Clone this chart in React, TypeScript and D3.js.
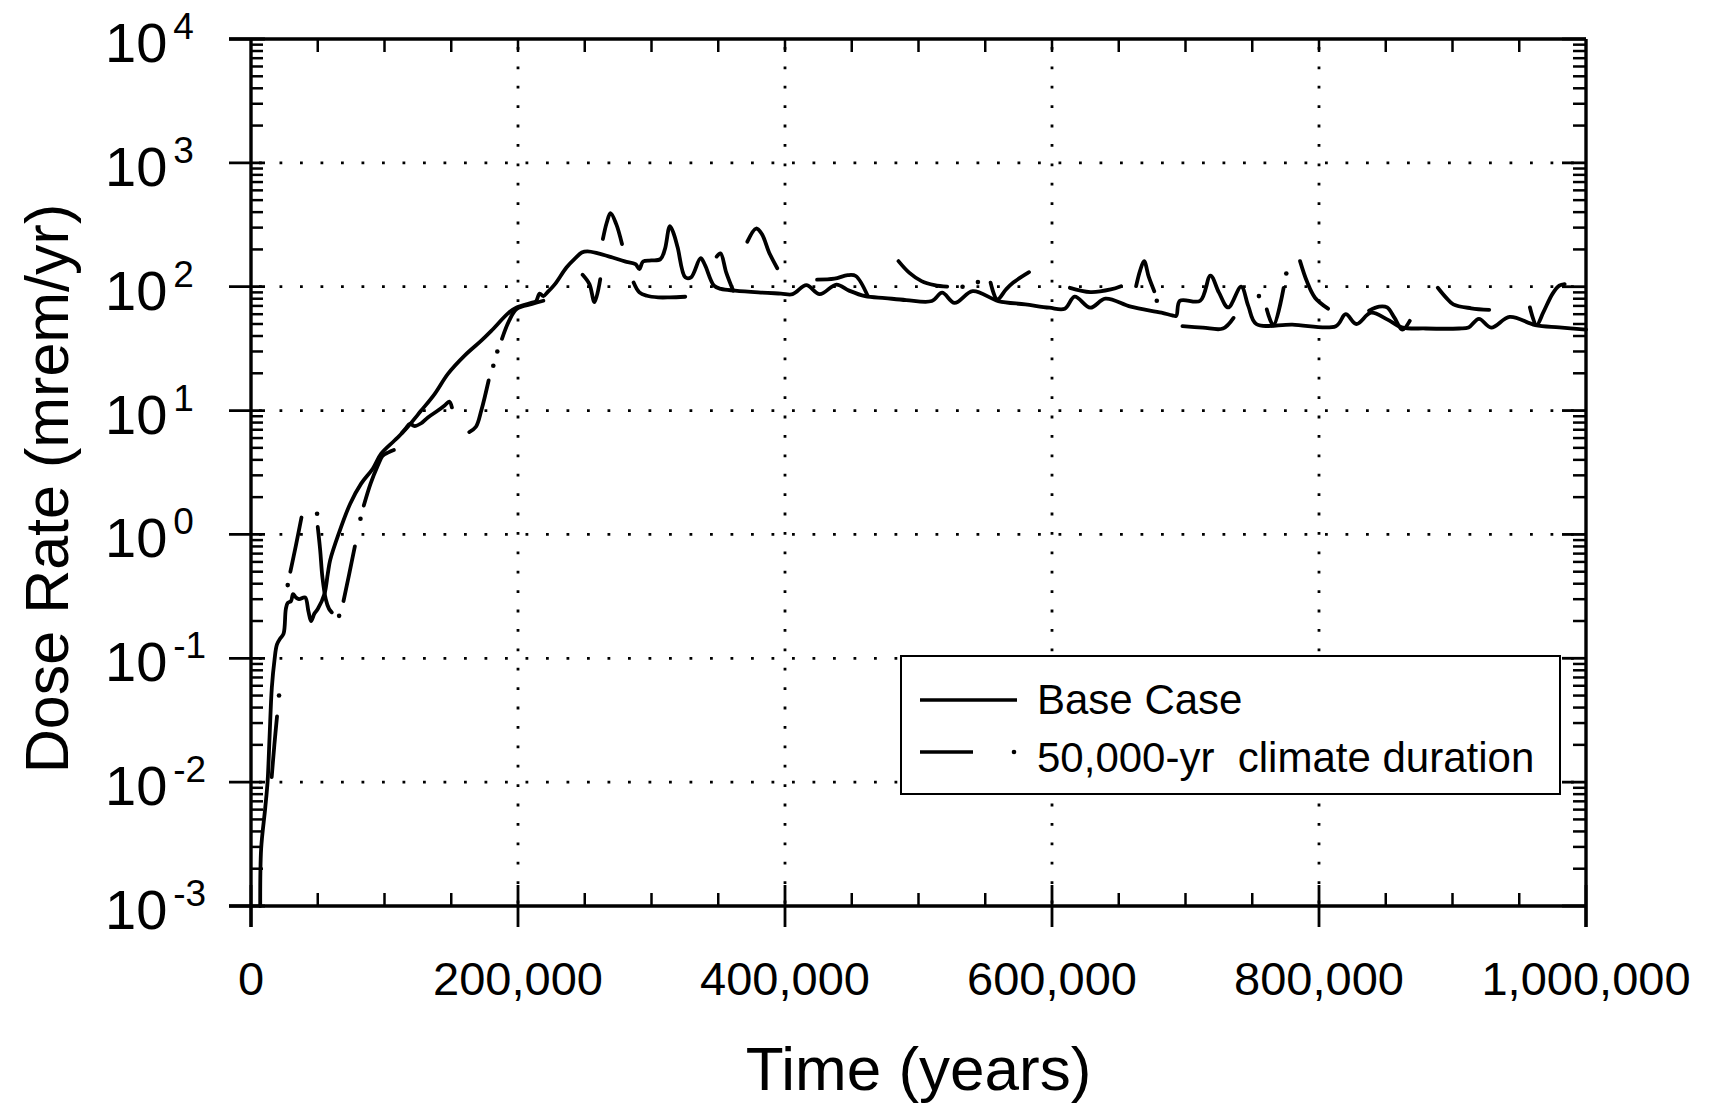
import React from 'react';
import * as d3 from 'd3';

const W = 1709;
const H = 1104;

// axis ticks / labels
const xTickValues = [0, 200000, 400000, 600000, 800000, 1000000];
const xTickLabels = ['0', '200,000', '400,000', '600,000', '800,000', '1,000,000'];
const xMinorStep = 50000;
const yTickExponents = [-3, -2, -1, 0, 1, 2, 3, 4];
const xTitle = 'Time (years)';
const yTitle = 'Dose Rate (mrem/yr)';
const legendLabels = ['Base Case', '50,000-yr  climate duration'];

// Base case (solid)
const baseCaseYears = [
  6900, 7600, 10600, 12400, 13900, 15600, 17600, 19400, 22000, 24400, 26100, 27500, 30000, 31500, 33700,
  36000, 40500, 43000, 45000, 47500, 50000, 55000, 57500, 59300, 65500, 74300, 82500, 91200, 97500,
  107500, 115000, 127500, 137500, 147500, 160000, 172500, 180000, 193300, 199000, 210000, 213400,
  216200, 219000, 222000, 227700, 236300, 243000, 247800, 252000, 260000, 270800, 280000, 288000,
  290900, 293700, 300000, 306700, 310000, 313800, 316500, 319600, 325300, 329600, 336800, 340000,
  346800, 352000, 362600, 380000, 397000, 405700, 416000, 426000, 438500, 448000, 460000, 475000,
  490800, 510000, 517700, 527000, 540600, 559800, 580000, 598000, 609600, 617000, 628700, 640000,
  659000, 682000, 690000, 693000, 695800, 711000, 718700, 725000, 732000, 741700, 747000, 753000,
  780000, 812600, 820000, 828000, 839000, 851000, 862000, 880000, 905000, 912000, 919800, 929000,
  942800, 962000, 980000, 1000000,
];
const baseCaseDose = [
  0.001, 0.0029, 0.0061, 0.01, 0.023, 0.058, 0.097, 0.129, 0.145, 0.158, 0.25, 0.28, 0.29, 0.33, 0.31,
  0.3, 0.31, 0.24, 0.2, 0.23, 0.25, 0.33, 0.48, 0.62, 1.0, 1.77, 2.57, 3.39, 4.48,
  5.73, 6.9, 10, 13.6, 19.8, 27.8, 36.7, 44, 62, 68, 74, 76,
  88, 84, 90, 105, 143, 170, 189, 193, 186, 172, 160, 152,
  139, 160, 163, 167, 200, 309, 270, 207, 119, 119, 170, 150,
  102, 96, 93, 90, 88, 87, 103, 87, 104, 93, 84, 81,
  78, 76.6, 89.5, 74, 92, 76.6, 72, 67.7, 66.5, 83, 67.7, 80,
  69, 61.7, 58.7, 58, 77, 77, 123, 90, 68, 100, 70, 50,
  49.5, 48, 60, 50, 61.7, 54.5, 47, 46, 46, 46.8, 55, 46.8,
  57, 49, 47, 45,
];

// 50,000-yr climate duration (dash-dot) : visible dashes, NaN = gap of the dash pattern
const climateYears = [
  15500, 17500, 19500, NaN,
  29500, 33500, 37800, NaN,
  50000, 51800, 53500, 56000, 58500, 60500, NaN,
  69300, 73400, 77800, NaN,
  84500, 89500, 95000, 98500, 103000, 107000, NaN,
  113000, 116000, 119000, 122500, 127500, 132500, 140000, 145000, 148500, 150500, NaN,
  163500, 168500, 172500, 178000, NaN,
  188000, 193300, 199000, 210500, 219000, NaN,
  248400, 253500, 257300, 261600, NaN,
  263600, 266500, 269300, 273600, 277900, NaN,
  286600, 290900, 296600, 305000, 313800, 325300, NaN,
  348800, 351700, 356000, 361200, NaN,
  371800, 378400, 382700, 388000, 394200, NaN,
  424000, 437000, 447000, 453000, 462000, NaN,
  485000, 493000, 502300, 512000, 521500, NaN,
  554000, 559000, 565500, 571000, 582800, NaN,
  613400, 628700, 644000, 651700, NaN,
  663000, 666000, 669000, 672500, 676600, NaN,
  697700, 713000, 728000, 736000, NaN,
  760900, 765800, 773500, NaN,
  785800, 791000, 797000, 806800, NaN,
  837500, 845000, 851000, 856600, 862400, 868000, NaN,
  889000, 895000, 900600, 914000, 927500, NaN,
  958000, 963000, 968000, 975000, 980000, 984000,
];
const climateDose = [
  0.011, 0.02, 0.034, NaN,
  0.5, 0.8, 1.37, NaN,
  1.15, 0.75, 0.45, 0.3, 0.25, 0.235, NaN,
  0.29, 0.47, 0.8, NaN,
  1.71, 2.56, 3.6, 4.3, 4.6, 4.8, NaN,
  6.6, 7.2, 7.8, 7.5, 7.9, 8.8, 10, 11, 11.8, 10.6, NaN,
  6.7, 7.4, 10, 17.5, NaN,
  38, 53, 66, 72.5, 77, NaN,
  125, 105, 75, 115, NaN,
  243, 330, 393, 320, 221, NaN,
  108, 90, 84.5, 82, 82, 83, NaN,
  175, 186, 130, 93, NaN,
  231, 295, 266, 190, 141, NaN,
  114, 116, 124, 122, 84, NaN,
  161, 130, 111, 103, 100, NaN,
  108, 79, 95, 108, 131, NaN,
  98, 90.6, 95, 101, NaN,
  101, 135, 161, 120, 92, NaN,
  48, 46.8, 45.9, 56, NaN,
  65.6, 48.8, 98, NaN,
  161, 110, 81.5, 66.5, NaN,
  64, 69, 68, 56, 45, 53, NaN,
  98, 82, 72, 67, 65, NaN,
  68, 49, 62, 88, 102, 105,
];
const climateDotYears = [21000, 27500, 49500, 66000, 82000, 181500, 184500, 533000, 544500, 678500, 755000, 775500];
const climateDotDose = [0.05, 0.39, 1.47, 0.22, 1.34, 23, 30, 100, 109, 77, 84, 128];

const FONT = '"Liberation Sans", Arial, Helvetica, sans-serif';

export default function App() {
  const x = d3.scaleLinear().domain([0, 1000000]).range([251, 1586]);
  const y = d3.scaleLog().domain([1e-3, 1e4]).range([906, 39]);
  const x0 = x(0), x1 = x(1000000), yTop = y(1e4), yBot = y(1e-3);

  const line = d3
    .line<[number, number]>()
    .defined((d) => !isNaN(d[0]) && !isNaN(d[1]))
    .x((d) => x(d[0]))
    .y((d) => y(d[1]))
    .curve(d3.curveCatmullRom.alpha(0.5));

  const basePts: [number, number][] = baseCaseYears.map((t, i) => [t, baseCaseDose[i]]);
  const climPts: [number, number][] = climateYears.map((t, i) => [t, climateDose[i]]);

  const minorX = d3.range(xMinorStep, 1000000, xMinorStep);
  const minorY: number[] = [];
  for (let e = -3; e < 4; e++) for (let k = 2; k <= 9; k++) minorY.push(k * Math.pow(10, e));

  const gridX = xTickValues.filter((v) => v > 0 && v < 1000000);
  const gridY = yTickExponents.filter((e) => e > -3 && e < 4).map((e) => Math.pow(10, e));

  return (
    <div style={{ position: 'fixed', left: 0, top: 0, width: W, height: H, background: '#fff' }}>
      <svg width={W} height={H} style={{ display: 'block' }} fontFamily={FONT}>
        <rect x={0} y={0} width={W} height={H} fill="#fff" />
        {/* grid */}
        <g stroke="#000" strokeWidth={2.8} strokeDasharray="2.8 17.7" fill="none">
          {gridY.map((v) => (
            <line key={'gy' + v} x1={x0 + 8} x2={x1} y1={y(v)} y2={y(v)} />
          ))}
          {gridX.map((v) => (
            <line key={'gx' + v} x1={x(v)} x2={x(v)} y1={yTop + 8} y2={yBot} strokeDasharray="2.8 16.6" />
          ))}
        </g>

        {/* data */}
        <path d={line(basePts) || ''} fill="none" stroke="#000" strokeWidth={3.8} strokeLinejoin="round" strokeLinecap="round" />
        <path d={line(climPts) || ''} fill="none" stroke="#000" strokeWidth={3.8} strokeLinejoin="round" strokeLinecap="round" />
        {climateDotYears.map((t, i) => (
          <circle key={'cd' + i} cx={x(t)} cy={y(climateDotDose[i])} r={2.3} fill="#000" />
        ))}

        {/* axes frame */}
        <g stroke="#000" fill="none" strokeLinecap="butt">
          <line x1={x0} x2={x0} y1={yTop} y2={yBot + 21} strokeWidth={3.4} />
          <line x1={x1} x2={x1} y1={yTop} y2={yBot + 21} strokeWidth={3.4} />
          <line x1={x0 - 22} x2={x1} y1={yTop} y2={yTop} strokeWidth={3.4} />
          <line x1={x0 - 22} x2={x1} y1={yBot} y2={yBot} strokeWidth={3.4} />
          {/* x major ticks */}
          {xTickValues.map((v) => (
            <line key={'xt' + v} x1={x(v)} x2={x(v)} y1={yBot - 21} y2={yBot + 21} strokeWidth={2.8} />
          ))}
          {/* x minor ticks bottom */}
          {minorX
            .filter((v) => v % 200000 !== 0)
            .map((v) => (
              <line key={'xm' + v} x1={x(v)} x2={x(v)} y1={yBot - 13} y2={yBot} strokeWidth={2.5} />
            ))}
          {/* top ticks */}
          {minorX.map((v) => (
            <line key={'xtop' + v} x1={x(v)} x2={x(v)} y1={yTop} y2={yTop + 13} strokeWidth={2.5} />
          ))}
          {/* y major ticks */}
          {yTickExponents.map((e) => (
            <g key={'ym' + e}>
              <line x1={x0 - 22} x2={x0 + 14} y1={y(Math.pow(10, e))} y2={y(Math.pow(10, e))} strokeWidth={2.8} />
              <line x1={x1 - 24} x2={x1} y1={y(Math.pow(10, e))} y2={y(Math.pow(10, e))} strokeWidth={2.8} />
            </g>
          ))}
          {/* y minor ticks */}
          {minorY.map((v, i) => (
            <g key={'ymin' + i}>
              <line x1={x0} x2={x0 + 12} y1={y(v)} y2={y(v)} strokeWidth={2.5} />
              <line x1={x1 - 13} x2={x1} y1={y(v)} y2={y(v)} strokeWidth={2.5} />
            </g>
          ))}
        </g>

        {/* x tick labels */}
        {xTickValues.map((v, i) => (
          <text key={'xl' + v} x={x(v)} y={995} fontSize={47} textAnchor="middle" fill="#000">
            {xTickLabels[i]}
          </text>
        ))}
        {/* y tick labels */}
        {yTickExponents.map((e) => (
          <text key={'yl' + e} x={105} y={y(Math.pow(10, e)) + 23} fontSize={56} fill="#000">
            10
            <tspan dx={6} dy={-23} fontSize={37}>
              {String(e)}
            </tspan>
          </text>
        ))}

        {/* axis titles */}
        <text x={(x0 + x1) / 2} y={1090} fontSize={62} textAnchor="middle" fill="#000">
          {xTitle}
        </text>
        <text
          transform={`translate(68, ${(yTop + yBot) / 2 + 16}) rotate(-90)`}
          fontSize={61}
          textAnchor="middle"
          fill="#000"
        >
          {yTitle}
        </text>

        {/* legend */}
        <rect x={901} y={656} width={659} height={138} fill="#fff" stroke="#000" strokeWidth={2} />
        <line x1={920} x2={1017} y1={700} y2={700} stroke="#000" strokeWidth={3.4} />
        <line x1={920} x2={973} y1={752} y2={752} stroke="#000" strokeWidth={3.4} />
        <circle cx={1014} cy={752} r={2.3} fill="#000" />
        <text x={1037} y={714} fontSize={42} fill="#000" style={{ whiteSpace: 'pre' }}>
          {legendLabels[0]}
        </text>
        <text x={1037} y={772} fontSize={42} fill="#000" style={{ whiteSpace: 'pre' }}>
          {legendLabels[1]}
        </text>
      </svg>
    </div>
  );
}
